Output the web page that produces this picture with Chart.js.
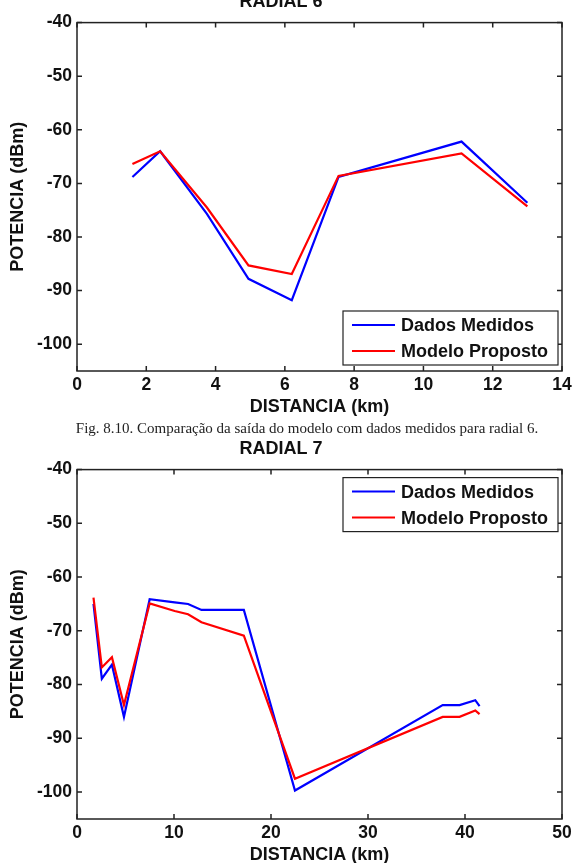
<!DOCTYPE html>
<html>
<head>
<meta charset="utf-8">
<script src="https://cdn.jsdelivr.net/npm/chart.js@4.4.1/dist/chart.umd.min.js"></script>
<style>
  html, body { margin: 0; padding: 0; background: #fff; width: 577px; height: 863px; overflow: hidden; position: relative; }
  .wrap { position: absolute; left: 0; width: 577px; }
  #caption { position: absolute; left: 7px; width: 600px; top: 419px; text-align: center;
             font-family: "Liberation Serif", serif; font-size: 15px; line-height: 18px; color: #222; }
</style>
</head>
<body>
<div class="wrap" style="top:-19px;height:440px;"><canvas id="c1" width="577" height="440"></canvas></div>
<div id="caption">Fig. 8.10. Comparação da saída do modelo com dados medidos para radial 6.</div>
<div class="wrap" style="top:428px;height:441px;"><canvas id="c2" width="577" height="441"></canvas></div>
<script>
// ---- data ----
const seriesNames = ["Dados Medidos", "Modelo Proposto"];
const yTicks = [-100, -90, -80, -70, -60, -50, -40];

const dist6 = [1.6, 2.4, 3.75, 4.95, 6.2, 7.55, 11.1, 13.0];
const med6  = [-68.8, -64.0, -75.7, -87.8, -91.8, -68.8, -62.2, -73.6];
const mod6  = [-66.4, -64.0, -74.5, -85.3, -86.9, -68.6, -64.4, -74.3];
const xTicks6 = [0, 2, 4, 6, 8, 10, 12, 14];

const dist7 = [1.7, 2.56, 3.6, 4.84, 7.49, 10.07, 11.45, 12.83, 17.2, 22.47, 37.7, 39.44, 41.06, 41.5];
const med7  = [-65.0, -78.9, -76.3, -86.0, -64.1, -64.7, -65.0, -66.1, -66.1, -99.7, -83.8, -83.8, -82.9, -84.0];
const mod7  = [-63.8, -76.8, -74.9, -83.8, -64.9, -66.3, -66.9, -68.4, -70.9, -97.5, -86.0, -86.0, -84.8, -85.5];
const xTicks7 = [0, 10, 20, 30, 40, 50];

const FONT = "'Liberation Sans', Arial, sans-serif";

const frameLegend = {
  id: 'frameLegend',
  afterDraw(chart, args, opts) {
    const ctx = chart.ctx;
    const a = chart.chartArea;
    const xs = chart.scales.x, ys = chart.scales.y;
    ctx.save();
    ctx.strokeStyle = '#222';
    ctx.lineWidth = 1.5;
    ctx.strokeRect(a.left, a.top, a.right - a.left, a.bottom - a.top);
    const tl = 5;
    ctx.beginPath();
    xs.ticks.forEach(t => {
      const px = xs.getPixelForValue(t.value);
      ctx.moveTo(px, a.bottom); ctx.lineTo(px, a.bottom - tl);
      ctx.moveTo(px, a.top); ctx.lineTo(px, a.top + tl);
    });
    ys.ticks.forEach(t => {
      const py = ys.getPixelForValue(t.value);
      ctx.moveTo(a.left, py); ctx.lineTo(a.left + tl, py);
      ctx.moveTo(a.right, py); ctx.lineTo(a.right - tl, py);
    });
    ctx.stroke();
    // legend box
    const w = 215, h = 54;
    const bx = a.right - 4 - w;
    const by = opts.pos === 'top' ? a.top + 8 : a.bottom - 6 - h;
    ctx.fillStyle = '#fff';
    ctx.fillRect(bx, by, w, h);
    ctx.lineWidth = 1.2;
    ctx.strokeStyle = '#222';
    ctx.strokeRect(bx, by, w, h);
    ctx.font = "bold 18px " + FONT;
    ctx.textBaseline = 'middle';
    ctx.textAlign = 'left';
    chart.data.datasets.forEach((ds, i) => {
      const cy = by + 14 + i * 26;
      ctx.strokeStyle = ds.borderColor;
      ctx.lineWidth = 2;
      ctx.beginPath();
      ctx.moveTo(bx + 9, cy); ctx.lineTo(bx + 52, cy);
      ctx.stroke();
      ctx.fillStyle = '#111';
      ctx.fillText(ds.label, bx + 58, cy + 1);
    });
    ctx.restore();
  }
};

function makeChart(id, title, dist, med, mod, xTicks, xMax, legendPos) {
  const pts = (ys) => dist.map((d, i) => ({x: d, y: ys[i]}));
  return new Chart(document.getElementById(id), {
    type: 'line',
    data: {
      datasets: [
        {label: seriesNames[0], data: pts(med), borderColor: '#0000ff', borderWidth: 2.2, pointRadius: 0, tension: 0, order: 1},
        {label: seriesNames[1], data: pts(mod), borderColor: '#ff0000', borderWidth: 2.2, pointRadius: 0, tension: 0, order: 0}
      ]
    },
    options: {
      responsive: false,
      animation: false,
      layout: {padding: {left: 0, right: 15, top: 0, bottom: 0}},
      plugins: {
        legend: {display: false},
        tooltip: {enabled: false},
        title: {display: true, text: title, color: '#111',
                font: {family: FONT, size: 18, weight: 'bold'}, padding: {top: 10, bottom: 10}},
        frameLegend: {pos: legendPos}
      },
      scales: {
        x: {
          type: 'linear', min: 0, max: xMax,
          afterBuildTicks: s => { s.ticks = xTicks.map(v => ({value: v})); },
          afterFit: s => { s.height = 50; },
          grid: {display: false, drawTicks: false},
          border: {display: false},
          ticks: {color: '#111', padding: 4, maxRotation: 0, font: {family: FONT, size: 17.5, weight: 'bold'}},
          title: {display: true, text: 'DISTANCIA (km)', color: '#111', padding: {top: 0, bottom: 3},
                  font: {family: FONT, size: 18, weight: 'bold'}}
        },
        y: {
          type: 'linear', min: -105, max: -40,
          afterBuildTicks: s => { s.ticks = yTicks.map(v => ({value: v})); },
          afterFit: s => { s.width = 77; },
          grid: {display: false, drawTicks: false},
          border: {display: false},
          ticks: {color: '#111', padding: 5, font: {family: FONT, size: 17.5, weight: 'bold'}},
          title: {display: true, text: 'POTENCIA (dBm)', color: '#111', padding: {top: 7, bottom: 0},
                  font: {family: FONT, size: 18, weight: 'bold'}}
        }
      }
    },
    plugins: [frameLegend]
  });
}

makeChart('c1', 'RADIAL 6', dist6, med6, mod6, xTicks6, 14, 'bottom');
makeChart('c2', 'RADIAL 7', dist7, med7, mod7, xTicks7, 50, 'top');
</script>
</body>
</html>
